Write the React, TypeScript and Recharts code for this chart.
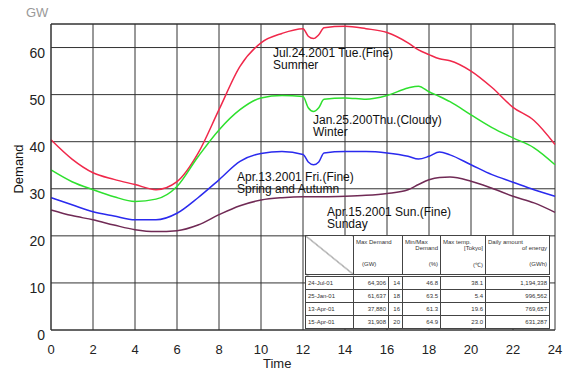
import { LineChart, Line, XAxis, YAxis, CartesianGrid, ReferenceLine } from "recharts";

// hours of the day (finer around the lunch dip)
const HOURS = [0, 1, 2, 3, 4, 5, 6, 7, 8, 9, 10, 11, 12, 12.25, 12.5, 12.75, 13, 14, 15, 16, 17, 17.5, 18, 18.5, 19, 20, 21, 22, 23, 24];

// demand in GW
const SUMMER = [40.4, 36.3, 33.4, 32, 30.9, 29.8, 31.5, 37.5, 46.8, 56, 61, 63, 64, 62.4, 61.9, 62.7, 64.2, 64.5, 64, 63.2, 61, 59.5, 58.5, 57.6, 57.2, 55, 51.5, 47.3, 44.5, 39.4];
const WINTER = [34, 31.5, 29.8, 28.3, 27.3, 27.8, 30.5, 36.8, 42.5, 46.8, 49.3, 49.8, 49.6, 47.2, 46.4, 47.2, 49, 49.3, 49, 49.8, 51.4, 51.8, 50.6, 49.6, 48.5, 45.7, 43, 40.8, 38.7, 35.1];
const SPRING = [28.1, 26.6, 25.1, 24.2, 23.4, 23.4, 24.8, 28.1, 31.9, 35.8, 37.5, 37.9, 37.3, 35.7, 35.1, 35.7, 37.6, 37.9, 37.9, 37.6, 36.9, 36.3, 36.9, 37.8, 37.2, 35.1, 33, 31.4, 29.8, 28.4];
const SUNDAY = [25.5, 24.3, 23.4, 22.3, 21.3, 20.9, 21.1, 22.3, 24.5, 26.4, 27.6, 28.1, 28.3, 28.3, 28.3, 28.3, 28.3, 28.4, 28.6, 29, 29.8, 30.9, 31.9, 32.4, 32.5, 31.6, 30.1, 28.4, 27, 25];

const X_TICKS = [0, 2, 4, 6, 8, 10, 12, 14, 16, 18, 20, 22, 24];
const Y_TICKS = [0, 10, 20, 30, 40, 50, 60];

// summary table
const TABLE_DATES = ["24-Jul-01", "25-Jan-01", "13-Apr-01", "15-Apr-01"];
const TABLE_MAX = ["64,306", "61,637", "37,880", "31,908"];
const TABLE_HOUR = ["14", "18", "16", "20"];
const TABLE_RATIO = ["46.8", "63.5", "61.3", "64.9"];
const TABLE_TEMP = ["38.1", "5.4", "19.6", "23.0"];
const TABLE_ENERGY = ["1,194,338", "996,562", "769,657", "631,287"];

const FONT = "'Liberation Sans', Arial, sans-serif";
const GRID = "#333";

const data = HOURS.map((h, i) => ({
  h,
  summer: SUMMER[i],
  winter: WINTER[i],
  spring: SPRING[i],
  sunday: SUNDAY[i],
}));

const note = (left: number, top: number, lines: string[]) => (
  <div style={{ position: "absolute", left, top, fontSize: 12, lineHeight: "12px", color: "#111", whiteSpace: "nowrap" }}>
    {lines.map((l) => <div key={l}>{l}</div>)}
  </div>
);

const cell = { border: "1px solid #444", padding: "0 2px", height: 12, textAlign: "right" as const };

export default function App() {
  return (
    <div style={{ position: "absolute", left: 0, top: 0, width: 572, height: 373, background: "#fff", fontFamily: FONT }}>
      <LineChart width={572} height={373} data={data} margin={{ top: 24, right: 17, left: 11, bottom: 18 }}>
        <CartesianGrid stroke={GRID} strokeWidth={1} />
        <ReferenceLine y={65} stroke={GRID} />
        <XAxis dataKey="h" type="number" domain={[0, 24]} ticks={X_TICKS} height={25}
               axisLine={{ stroke: GRID }} tickLine={false} tickSize={0} tickMargin={15}
               tick={{ fontSize: 13, fill: "#222", fontFamily: FONT }} />
        <YAxis type="number" domain={[0, 65]} ticks={Y_TICKS} width={40}
               axisLine={{ stroke: GRID }} tickLine={false} tickSize={0} tickMargin={6}
               tick={{ fontSize: 14, fill: "#222", fontFamily: FONT, dy: 5 }} />
        <Line dataKey="summer" type="monotone" stroke="#f0284a" strokeWidth={1.5} dot={false} isAnimationActive={false} />
        <Line dataKey="winter" type="monotone" stroke="#2ee02e" strokeWidth={1.5} dot={false} isAnimationActive={false} />
        <Line dataKey="spring" type="monotone" stroke="#2a2aee" strokeWidth={1.5} dot={false} isAnimationActive={false} />
        <Line dataKey="sunday" type="monotone" stroke="#702a55" strokeWidth={1.5} dot={false} isAnimationActive={false} />
      </LineChart>

      <div style={{ position: "absolute", left: 26, top: 5, fontSize: 13, color: "#999" }}>GW</div>
      <div style={{ position: "absolute", left: 18, top: 169, fontSize: 13, color: "#111",
                    transform: "translate(-50%, -50%) rotate(-90deg)" }}>Demand</div>
      <div style={{ position: "absolute", left: 263, top: 356, fontSize: 13, color: "#222" }}>Time</div>

      {note(273, 47, ["Jul.24.2001 Tue.(Fine)", "Summer"])}
      {note(313, 114, ["Jan.25.200Thu.(Cloudy)", "Winter"])}
      {note(237, 171, ["Apr.13.2001 Fri.(Fine)", "Spring and Autumn"])}
      {note(327, 206, ["Apr.15.2001 Sun.(Fine)", "Sunday"])}

      <table style={{ position: "absolute", left: 305, top: 235, width: 244, borderCollapse: "collapse",
                      background: "#fff", fontSize: 6, color: "#333", fontFamily: FONT, tableLayout: "fixed" }}>
        <colgroup>
          <col style={{ width: 48 }} /><col style={{ width: 35 }} /><col style={{ width: 14 }} />
          <col style={{ width: 38 }} /><col style={{ width: 45 }} /><col style={{ width: 64 }} />
        </colgroup>
        <tbody>
          <tr style={{ height: 40, borderBottom: "3px double #444" }}>
            <td style={{ border: "1px solid #444",
                         background: "linear-gradient(to top right, transparent calc(50% - 0.6px), #444 50%, transparent calc(50% + 0.6px))" }} />
            <td colSpan={2} style={{ border: "1px solid #444", verticalAlign: "top", padding: "3px 2px" }}>
              <div>Max Demand</div>
              <div style={{ marginTop: 16, paddingLeft: 6 }}>(GW)</div>
            </td>
            <td style={{ border: "1px solid #444", verticalAlign: "top", padding: "3px 2px", textAlign: "right" }}>
              <div style={{ textAlign: "left" }}>Min/Max</div>
              <div>Demand</div>
              <div style={{ marginTop: 10 }}>(%)</div>
            </td>
            <td style={{ border: "1px solid #444", verticalAlign: "top", padding: "3px 2px", textAlign: "right" }}>
              <div style={{ textAlign: "left" }}>Max temp.</div>
              <div>[Tokyo]</div>
              <div style={{ marginTop: 10 }}>(℃)</div>
            </td>
            <td style={{ border: "1px solid #444", verticalAlign: "top", padding: "3px 2px", textAlign: "right" }}>
              <div style={{ textAlign: "left" }}>Daily amount</div>
              <div>of energy</div>
              <div style={{ marginTop: 10 }}>(GWh)</div>
            </td>
          </tr>
          {TABLE_DATES.map((d, i) => (
            <tr key={d}>
              <td style={{ ...cell, textAlign: "left" }}>{d}</td>
              <td style={cell}>{TABLE_MAX[i]}</td>
              <td style={cell}>{TABLE_HOUR[i]}</td>
              <td style={cell}>{TABLE_RATIO[i]}</td>
              <td style={cell}>{TABLE_TEMP[i]}</td>
              <td style={cell}>{TABLE_ENERGY[i]}</td>
            </tr>
          ))}
        </tbody>
      </table>
    </div>
  );
}
